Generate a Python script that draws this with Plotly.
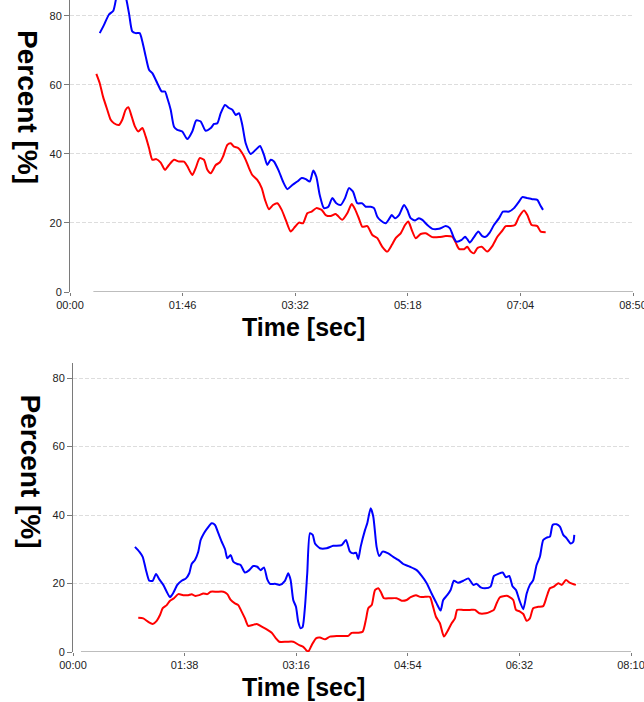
import plotly.graph_objects as go

# ---------------- data ----------------
top_tick_secs = [0, 106, 212, 318, 424, 530]
top_tick_labels = ["00:00", "01:46", "03:32", "05:18", "07:04", "08:50"]
bot_tick_secs = [0, 98, 196, 294, 392, 490]
bot_tick_labels = ["00:00", "01:38", "03:16", "04:54", "06:32", "08:10"]
y_ticks = [0, 20, 40, 60, 80]

top_blue_t = [28.0,32.0,36.7,40.8,46,51,55.5,58.6,61.8,65.6,68.1,71.3,74.4,77.5,82.2,86.3,89.4,91.6,94.8,97.9,101.0,105.7,110.4,115.1,118.9,123.0,127.7,132.5,135.6,138.7,141.9,145.9,149.7,152.8,156.0,159.1,162.2,165.4,170.1,174.8,178.9,182.6,185.7,188.9,192.0,196.8,200.5,204.6,209.3,214.0,218.1,221.9,225.7,229.0,231.9,235.1,239.1,243.2,246.9,250.7,254.8,258.9,262.6,266.4,270.5,275.2,278.4,283.1,286.2,289.3,292.5,297.2,300.3,302.9,306.0,309.7,314.4,317.5,320.7,324.8,328.5,331.7,336.4,341.1,347.4,353.7,357.5,361.5,363.7,368.7,371.9,374.0,376.3,380.3,384.4,388.1,391.3,395.1,399.1,403.9,407.6,413.3,418.0,422.7,425.8,430.5,435.2,439.9,443.1,445.3]
top_blue_v = [75.0,77.4,80.4,81.5,88,87,80.8,75.5,75.0,75.0,72.6,68.2,64.4,63.4,60.5,58.1,58.1,56.2,52.8,47.9,47.0,46.5,44.3,46.5,49.7,49.4,46.7,47.5,48.7,48.9,51.8,54.2,53.3,52.8,51.3,51.8,48.4,43.1,40.0,41.2,42.3,39.7,36.8,38.3,37.8,34.9,32.0,29.8,31.0,32.0,33.0,32.7,32.0,35.2,33.4,28.1,24.3,24.7,27.2,25.7,25.2,27.2,30.1,29.1,25.7,25.7,24.7,24.7,24.3,21.8,20.7,19.9,21.1,22.3,21.4,22.3,25.2,23.8,21.4,20.7,21.4,20.9,19.4,18.3,18.3,19.1,18.5,15.6,14.6,15.1,16.0,15.3,14.3,15.9,17.5,16.2,16.0,17.2,19.4,21.4,23.3,23.3,24.3,26.2,27.5,27.2,26.9,26.7,24.9,23.8]

top_red_t = [24.8,28.0,31.1,35.1,38.3,41.4,46.1,49.2,52.4,54.9,58.1,61.2,64.3,68.1,71.3,74.4,77.5,81.2,85.4,89.4,93.2,97.9,102.6,107.3,110.4,115.1,118.3,122.1,126.1,129.3,132.5,137.2,140.9,144.0,148.1,151.3,154.4,158.4,162.2,165.4,168.5,171.6,176.3,180.5,183.6,187.3,191.1,195.2,199.3,203.1,207.8,211.8,215.6,219.3,223.4,227.5,231.9,236.9,240.7,245.4,250.1,256.3,261.0,265.2,268.6,272.1,275.2,279.9,284.6,289.3,294.0,298.7,302.9,306.6,311.3,315.4,318.5,321.7,325.4,330.1,334.9,341.1,347.4,353.7,359.9,363.1,366.2,370.9,374.0,377.2,380.3,383.4,387.6,392.8,397.5,402.3,407.0,410.2,414.9,418.9,422.7,427.4,430.5,434.6,439.9,443.1,447.8]
top_red_v = [63.2,60.5,56.6,52.8,49.9,48.9,48.4,49.9,52.8,53.5,50.8,47.9,46.5,47.5,45.0,41.7,38.3,38.5,37.5,35.4,36.8,38.3,37.8,37.8,36.5,33.9,35.9,38.8,38.3,35.4,34.4,36.8,37.5,39.2,42.6,43.1,42.1,41.7,40.2,38.3,35.9,33.9,32.5,30.1,26.7,24.0,25.2,25.7,23.8,20.9,17.5,18.9,20.1,19.9,22.8,23.3,24.3,23.8,22.3,22.0,22.6,20.9,22.8,25.5,23.8,21.2,18.9,19.1,16.5,15.6,13.1,11.7,13.6,15.6,17.0,19.4,20.4,18.0,15.6,16.8,17.0,15.9,15.9,16.2,16.0,14.3,12.5,12.4,13.1,11.7,11.2,12.7,13.1,11.7,13.3,16.0,17.8,19.1,19.1,19.4,21.8,23.6,22.3,19.4,19.1,17.5,17.3]

bot_blue_t = [54.4,58.2,61.2,64.1,67.0,70.0,72.9,75.8,79.3,82.3,85.2,88.1,91.6,95.4,99.2,102.1,104.2,107.1,110.0,112.1,115.0,117.9,121.8,124.7,127.6,130.6,133.5,135.5,138.5,140.7,144.3,147.2,151.0,154.8,158.3,161.8,164.8,167.7,170.6,173.0,177.4,181.7,186.1,189.0,191.1,193.4,195.8,197.8,199.9,201.7,203.7,205.7,208.1,210.5,212.5,216.9,222.7,228.5,235.9,239.7,243.2,246.1,248.5,250.5,252.6,256.4,258.4,261.4,263.7,266.6,268.9,271.9,276.8,281.2,285.6,290.0,295.9,301.8,306.2,310.6,314.9,319.3,322.8,325.1,328.6,331.6,334.5,338.3,342.7,347.1,351.5,354.4,358.0,361.7,366.7,369.6,373.4,377.3,380.2,383.1,386.1,389.0,391.9,395.4,398.4,401.2,404.1,407.1,410.0,412.9,415.9,418.8,421.2,424.7,427.6,430.5,433.5,437.0,439.3,440.2]
bot_blue_v = [30.7,29.3,27.8,23.9,20.8,20.8,22.8,21.2,19.6,17.6,16.0,17.3,19.6,20.8,21.5,23.0,25.7,26.9,29.3,32.7,34.7,36.1,37.6,37.1,34.7,32.2,30.0,27.4,28.3,26.4,25.7,25.4,23.2,23.9,25.1,24.9,23.9,24.7,21.2,19.9,19.9,19.6,20.8,23.0,21.0,15.2,13.2,8.8,6.9,7.4,13.2,23.0,34.7,34.2,31.7,30.3,30.3,31.0,31.2,32.7,29.3,28.8,29.0,27.1,30.7,35.6,37.6,42.0,39.5,30.7,28.0,29.3,28.8,27.8,26.9,25.7,24.9,23.9,22.2,20.1,17.1,14.2,12.1,15.2,16.6,18.1,20.8,20.2,20.8,21.5,19.6,19.9,18.9,18.6,19.1,22.2,22.8,23.2,21.8,22.2,19.1,18.1,15.2,12.5,17.1,19.6,21.0,25.4,27.8,32.7,33.4,33.7,37.1,37.3,36.6,34.2,33.2,31.7,32.2,34.2]

bot_red_t = [57.3,61.7,66.1,70.0,73.5,76.4,78.8,82.3,85.2,88.7,92.5,96.8,101.2,104.2,107.1,110.9,114.4,117.9,120.9,126.2,132.0,135.5,138.5,142.2,145.1,148.1,151.0,153.9,157.8,161.3,165.7,170.1,174.5,178.2,181.1,187.6,193.4,198.7,202.2,204.6,206.6,209.6,213.4,216.9,221.3,225.6,231.5,237.3,241.7,244.7,250.5,254.4,257.3,259.3,262.3,265.2,268.1,270.2,273.1,278.3,284.2,288.6,293.0,296.5,301.2,304.7,309.1,313.4,315.8,318.7,322.2,325.7,328.6,332.5,335.4,337.4,342.7,348.6,353.0,356.7,362.6,366.7,369.6,372.0,374.9,380.8,383.1,386.6,389.0,392.5,395.4,398.4,401.2,404.1,408.5,412.9,415.9,418.8,422.3,426.1,429.1,432.9,436.4,441.6]
bot_red_v = [10.0,9.8,8.8,8.2,9.1,10.8,12.8,13.7,15.0,15.7,16.9,16.6,16.6,16.9,16.4,16.6,17.1,16.9,17.6,17.6,17.6,16.9,15.2,14.2,13.7,11.8,9.8,7.6,7.9,8.2,7.4,6.6,5.6,4.0,3.0,3.0,3.0,2.0,1.5,0.6,0.1,2.0,4.0,4.2,3.7,4.5,4.7,4.7,4.7,5.6,5.6,5.9,9.6,12.8,13.7,18.1,18.6,17.6,15.7,15.7,15.7,15.0,15.2,16.0,16.6,16.1,16.1,16.1,13.7,10.3,8.4,4.5,5.9,8.4,9.8,12.3,12.3,12.3,12.3,11.3,11.3,11.8,12.3,14.2,16.0,16.4,16.1,15.2,12.3,11.8,11.1,9.1,9.8,12.8,13.2,13.4,16.1,18.6,19.1,20.1,19.6,21.0,20.2,19.6]

top_baseline_t = [22, 530]
bot_baseline_t = [7, 490]

# ---------------- figure ----------------
W, H = 644, 702
FONT = "Liberation Sans, Arial, sans-serif"
fig = go.Figure()

line_kw = dict(mode="lines", hoverinfo="skip", showlegend=False)
fig.add_trace(go.Scatter(x=top_baseline_t, y=[0, 0], xaxis="x", yaxis="y",
                         line=dict(color="#7a7a7a", width=1), **line_kw))
fig.add_trace(go.Scatter(x=bot_baseline_t, y=[0, 0], xaxis="x2", yaxis="y2",
                         line=dict(color="#7a7a7a", width=1), **line_kw))
fig.add_trace(go.Scatter(x=top_red_t, y=top_red_v, xaxis="x", yaxis="y",
                         line=dict(color="#ff0000", width=2, shape="spline", smoothing=0.6), **line_kw))
fig.add_trace(go.Scatter(x=top_blue_t, y=top_blue_v, xaxis="x", yaxis="y",
                         line=dict(color="#0000ff", width=2, shape="spline", smoothing=0.6), **line_kw))
fig.add_trace(go.Scatter(x=bot_red_t, y=bot_red_v, xaxis="x2", yaxis="y2",
                         line=dict(color="#ff0000", width=2, shape="spline", smoothing=0.6), **line_kw))
fig.add_trace(go.Scatter(x=bot_blue_t, y=bot_blue_v, xaxis="x2", yaxis="y2",
                         line=dict(color="#0000ff", width=2, shape="spline", smoothing=0.6), **line_kw))

tickfont = dict(family=FONT, size=11, color="#222222")
xcommon = dict(showline=False, showgrid=False, zeroline=False, ticks="outside",
               ticklen=3, tickcolor="#7a7a7a", tickfont=tickfont, fixedrange=True,
               ticklabeloverflow="allow", automargin=False)
ycommon = dict(showline=True, linecolor="#7a7a7a", linewidth=1, showgrid=True,
               gridcolor="#dddddd", griddash="4px,2px", gridwidth=1, zeroline=False,
               ticks="outside", ticklen=5, tickcolor="#7a7a7a", tickfont=tickfont,
               tickvals=y_ticks, fixedrange=True, automargin=False)

fig.update_layout(
    width=W, height=H,
    margin=dict(l=0, r=0, t=0, b=0, autoexpand=False),
    paper_bgcolor="white", plot_bgcolor="white",
    xaxis=dict(domain=[70 / W, 633 / W], range=[0, 530], anchor="y",
               tickvals=top_tick_secs, ticktext=top_tick_labels, **xcommon),
    yaxis=dict(domain=[1 - 292 / H, 1.0], range=[0, 84.6], anchor="x", **ycommon),
    xaxis2=dict(domain=[73 / W, 631 / W], range=[0, 490], anchor="y2",
                tickvals=bot_tick_secs, ticktext=bot_tick_labels, **xcommon),
    yaxis2=dict(domain=[1 - 652 / H, 1 - 363 / H], range=[0, 84.4], anchor="x2", **ycommon),
)

title_font_y = dict(family=FONT, size=28, color="black")
title_font_x = dict(family=FONT, size=25, color="black")
annos = [
    dict(text="<b>Percent [%]</b>", x=27.5 / W, y=1 - 106.5 / H, textangle=90, font=title_font_y),
    dict(text="<b>Percent [%]</b>", x=30 / W, y=1 - 471.5 / H, textangle=90, font=title_font_y),
    dict(text="<b>Time [sec]</b>", x=303 / W, y=1 - 327 / H, font=title_font_x),
    dict(text="<b>Time [sec]</b>", x=303 / W, y=1 - 687 / H, font=title_font_x),
]
for a in annos:
    fig.add_annotation(xref="paper", yref="paper", xanchor="center", yanchor="middle",
                       showarrow=False, **a)

fig.write_html("out.html", config={"displayModeBar": False},
               post_script="document.body.style.margin='0';document.body.style.overflow='hidden';")
